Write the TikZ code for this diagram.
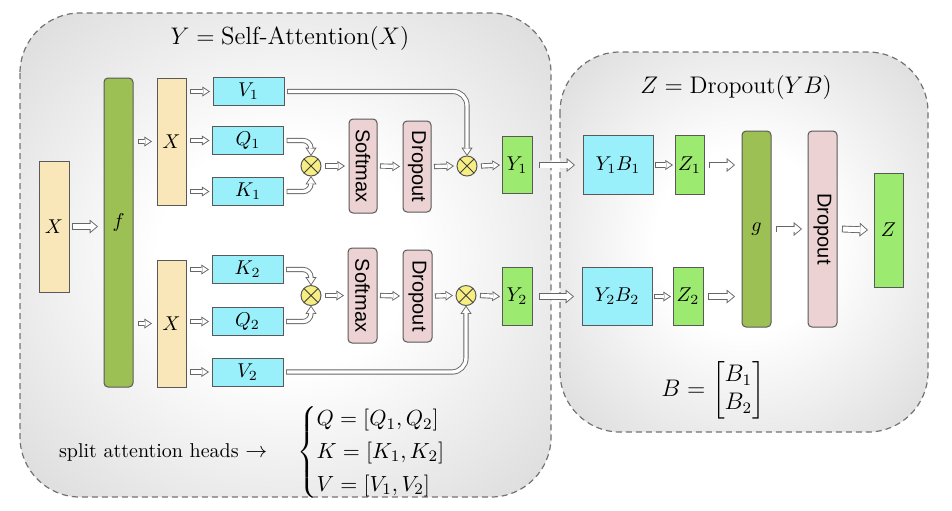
\documentclass[tikz,border=0pt]{standalone}
\usepackage{amsmath}
\usepackage{fontspec}
\newfontfamily\arialfont{Liberation Sans}
\usetikzlibrary{arrows.meta}
\definecolor{yel}{RGB}{250,231,185}
\definecolor{cya}{RGB}{154,240,250}
\definecolor{olive}{RGB}{157,192,85}
\definecolor{lgreen}{RGB}{156,235,112}
\definecolor{pinkc}{RGB}{236,210,210}
\definecolor{otyel}{RGB}{247,238,130}
\pgfdeclareradialshading{panelshade}{\pgfpoint{0bp}{0bp}}{color(0bp)=(white); color(12bp)=(white); color(50bp)=(black!23)}
\tikzset{
  every node/.style={inner sep=0pt, outer sep=0pt},
  bx/.style={draw=black!65, line width=0.5pt},
  ybox/.style={bx, fill=yel},
  cbox/.style={bx, fill=cya, minimum width=35.5pt, minimum height=14pt},
  gbox/.style={bx, fill=olive, rounded corners=2pt, minimum width=14.5pt},
  lbox/.style={bx, fill=lgreen},
  pbox/.style={bx, fill=pinkc, rounded corners=2pt, minimum width=14pt},
  vtext/.style={rotate=-90, font=\arialfont},
  otnode/.style={circle, bx, fill=otyel, minimum size=10pt},
  panel/.style={draw=black!55, line width=0.6pt, dash pattern=on 3pt off 2pt, rounded corners=30pt, shading=panelshade},
  sarrow/.style={line width=2.6pt, draw=black!60, -{Triangle[length=3.8pt,width=5pt,line width=0pt]},
     postaction={draw=white, line width=1.7pt, shorten <=0.45pt, -{Triangle[length=2.53pt,width=3.33pt,sep=0.82pt,line width=0pt]}}},
  marrow/.style={line width=2.6pt, draw=black!60, -{Triangle[length=4.2pt,width=5.6pt,line width=0pt]},
     postaction={draw=white, line width=1.7pt, shorten <=0.45pt, -{Triangle[length=2.94pt,width=3.92pt,sep=0.81pt,line width=0pt]}}},
  barrow/.style={line width=3.4pt, draw=black!60, -{Triangle[length=4.2pt,width=7pt,line width=0pt]},
     postaction={draw=white, line width=2.5pt, shorten <=0.45pt, -{Triangle[length=3.05pt,width=5.08pt,sep=0.7pt,line width=0pt]}}},
}
\begin{document}
\begin{tikzpicture}[x=0.5pt,y=-0.5pt]
\useasboundingbox (0,0) rectangle (952,510);
% panels
\shadedraw[panel] (20,13) rectangle (551,497);
\shadedraw[panel] (560,52) rectangle (928,432);
% titles
\node[font=\fontsize{12.4}{15}\selectfont] (t1) at (290,38) {$Y = \text{Self-Attention}(X)$};
\node[font=\large] (t2) at (736,87) {$Z = \mathrm{Dropout}(YB)$};
\node[font=\large] (bm) at (713,390) {$B = \begin{bmatrix} B_1\\ B_2\end{bmatrix}$};
% left nodes
\node[ybox, minimum width=15pt, minimum height=65.5pt] (Xin) at (54,226.5) {$X$};
\node[gbox, minimum height=154.5pt] (f) at (118.5,232.5) {};
\node (flabel) at (118.5,222) {$f$};
\node[ybox, minimum width=14.5pt, minimum height=63.5pt] (X1) at (171.5,141.5) {$X$};
\node[ybox, minimum width=14.5pt, minimum height=63.5pt] (X2) at (171.5,323.5) {$X$};
\node[cbox] (V1) at (248.5,91.5) {$V_1$};
\node[cbox] (Q1) at (248,140.5) {$Q_1$};
\node[cbox] (K1) at (248,191.5) {$K_1$};
\node[cbox] (K2) at (247.5,269.5) {$K_2$};
\node[cbox] (Q2) at (247.5,321.5) {$Q_2$};
\node[cbox] (V2) at (247.5,372) {$V_2$};
\node[otnode] (ot1) at (311,166) {};
\node[otnode] (ot2) at (467,166) {};
\node[otnode] (ot3) at (311,295.5) {};
\node[otnode] (ot4) at (466,295.5) {};
\foreach \o in {ot1,ot2,ot3,ot4}{
  \draw[line width=0.5pt, black!75] (\o.north west) -- (\o.south east) (\o.north east) -- (\o.south west);
}
\node[pbox, minimum height=47pt] (sm1) at (363,166) {};
\node[vtext] (sm1t) at (sm1) {Softmax};
\node[pbox, minimum height=45.5pt] (dr1) at (417,166.5) {};
\node[vtext] (dr1t) at (dr1) {Dropout};
\node[pbox, minimum width=14.5pt, minimum height=47.5pt] (sm2) at (362.5,295.5) {};
\node[vtext] (sm2t) at (sm2) {Softmax};
\node[pbox, minimum width=14.5pt, minimum height=46pt] (dr2) at (417.5,296) {};
\node[vtext] (dr2t) at (dr2) {Dropout};
\node[lbox, minimum width=15pt, minimum height=28.5pt] (Y1) at (517,165) {$Y_1$};
\node[lbox, minimum width=15pt, minimum height=29pt] (Y2) at (517,296.5) {$Y_2$};
% right nodes
\node[cbox, minimum width=35pt, minimum height=29.5pt] (Y1B1) at (618,165) {$Y_1B_1$};
\node[lbox, minimum width=14.5pt, minimum height=29.5pt] (Z1) at (689.5,165) {$Z_1$};
\node[cbox, minimum width=35pt, minimum height=29pt] (Y2B2) at (617,296.5) {$Y_2B_2$};
\node[lbox, minimum width=15pt, minimum height=29pt] (Z2) at (688,296.5) {$Z_2$};
\node[gbox, minimum height=98pt] (g) at (756.5,229) {$g$};
\node[pbox, minimum width=14.5pt, minimum height=98pt] (dr3) at (822.5,229) {};
\node[vtext] (dr3t) at (dr3) {Dropout};
\node[lbox, minimum width=14.5pt, minimum height=57pt] (Z) at (888.5,230) {$Z$};
% split text
\node[anchor=west] (split) at (59,452) {split attention heads {\fontsize{11}{13.6}\selectfont$\rightarrow$\hspace{15pt}$\begin{cases}Q=[Q_1,Q_2]\\ K=[K_1,K_2]\\ V=[V_1,V_2]\end{cases}$}};
% helper coordinates
\path (Xin.east -| f.west) coordinate (fin);
\path (X1.west -| f.east) coordinate (fx1);
\path (X2.west -| f.east) coordinate (fx2);
\path (V1.west -| X1.east) coordinate (x1v);
\path (Q1.west -| X1.east) coordinate (x1q);
\path (K1.west -| X1.east) coordinate (x1k);
\path (K2.west -| X2.east) coordinate (x2k);
\path (Q2.west -| X2.east) coordinate (x2q);
\path (V2.west -| X2.east) coordinate (x2v);
\path (Z1.east -| g.west) coordinate (gz1);
\path (Z2.east -| g.west) coordinate (gz2);
\path (g.east |- dr3.west) coordinate (gout);
% arrows
\draw[barrow] ([xshift=1.5pt]Xin.east) -- ([xshift=-3pt]fin);
\draw[sarrow] ([xshift=2.5pt]fx1) -- ([xshift=-2.5pt]X1.west);
\draw[sarrow] ([xshift=2.5pt]fx2) -- ([xshift=-2.5pt]X2.west);
\draw[sarrow] ([xshift=2pt]x1v) -- ([xshift=-1.5pt]V1.west);
\draw[sarrow] ([xshift=2pt]x1q) -- ([xshift=-1.5pt]Q1.west);
\draw[sarrow] ([xshift=2pt]x1k) -- ([xshift=-1.5pt]K1.west);
\draw[sarrow] ([xshift=2pt]x2k) -- ([xshift=-1.5pt]K2.west);
\draw[sarrow] ([xshift=2pt]x2q) -- ([xshift=-1.5pt]Q2.west);
\draw[sarrow] ([xshift=2pt]x2v) -- ([xshift=-1.5pt]V2.west);
\draw[marrow, rounded corners=4pt] ([xshift=1.5pt]Q1.east) -| (ot1.north);
\draw[marrow, rounded corners=4pt] ([xshift=1.5pt]K1.east) -| (ot1.south);
\draw[marrow, rounded corners=4pt] ([xshift=1.5pt]K2.east) -| (ot3.north);
\draw[marrow, rounded corners=4pt] ([xshift=1.5pt]Q2.east) -| (ot3.south);
\draw[marrow, rounded corners=7pt] ([xshift=1.5pt]V1.east) -| (ot2.north);
\draw[marrow, rounded corners=7pt] ([xshift=1.5pt]V2.east) -| (ot4.south);
\draw[sarrow] ([xshift=2pt]ot1.east) -- ([xshift=-2pt]sm1.west);
\draw[sarrow] ([xshift=1.5pt]sm1.east) -- ([xshift=-1.5pt]dr1.west);
\draw[sarrow] ([xshift=1.5pt]dr1.east) -- ([xshift=-1.5pt]ot2.west);
\draw[sarrow] ([xshift=2pt]ot2.east) -- ([xshift=-1pt]Y1.west);
\draw[sarrow] ([xshift=2pt]ot3.east) -- ([xshift=-2pt]sm2.west);
\draw[sarrow] ([xshift=1.5pt]sm2.east) -- ([xshift=-1.5pt]dr2.west);
\draw[sarrow] ([xshift=1.5pt]dr2.east) -- ([xshift=-1.5pt]ot4.west);
\draw[sarrow] ([xshift=2pt]ot4.east) -- ([xshift=-1pt]Y2.west);
\draw[barrow] ([xshift=3.5pt]Y1.east) -- ([xshift=-4pt]Y1B1.west);
\draw[barrow] ([xshift=3.5pt]Y2.east) -- ([xshift=-4pt]Y2B2.west);
\draw[sarrow] ([xshift=1pt]Y1B1.east) -- ([xshift=-1pt]Z1.west);
\draw[sarrow] ([xshift=1pt]Y2B2.east) -- ([xshift=-1pt]Z2.west);
\draw[barrow] ([xshift=2.5pt]Z1.east) -- ([xshift=-3.5pt]gz1);
\draw[barrow] ([xshift=2.5pt]Z2.east) -- ([xshift=-3.5pt]gz2);
\draw[barrow] ([xshift=2.5pt]gout) -- ([xshift=-3pt]dr3.west);
\draw[barrow] ([xshift=2.5pt]dr3.east) -- ([xshift=-3pt]Z.west);
\end{tikzpicture}
\end{document}
